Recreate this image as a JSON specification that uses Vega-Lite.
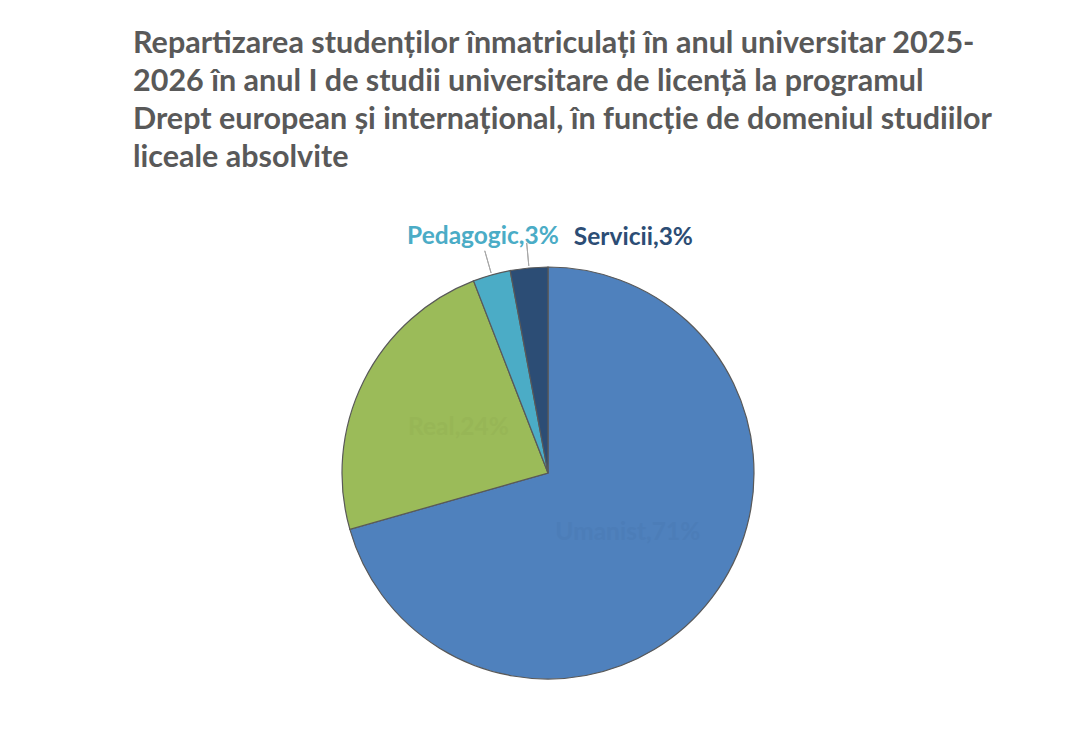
{
  "$schema": "https://vega.github.io/schema/vega-lite/v6.json",
  "autosize": {"type": "none"},
  "width": 1048,
  "height": 520,
  "padding": {"left": 24, "top": 213, "right": 0, "bottom": 0},
  "background": "white",
  "config": {"view": {"stroke": null}},
  "title": {
    "text": [
      "Repartizarea studenților înmatriculați în anul universitar 2025-",
      "2026 în anul I de studii universitare de licență la programul",
      "Drept european și internațional, în funcție de domeniul studiilor",
      "liceale absolvite"
    ],
    "anchor": "start",
    "dx": 109,
    "offset": 16,
    "baseline": "alphabetic",
    "lineHeight": 38,
    "font": "Lato",
    "fontSize": 30.5,
    "fontWeight": "bold",
    "color": "#595959"
  },
  "data": {
    "values": [
      {"cat": "Umanist", "n": 24, "ord": 1, "label": "Umanist,71%"},
      {"cat": "Real", "n": 8, "ord": 2, "label": "Real,24%"},
      {"cat": "Pedagogic", "n": 1, "ord": 3, "label": "Pedagogic,3%"},
      {"cat": "Servicii", "n": 1, "ord": 4, "label": "Servicii,3%"}
    ]
  },
  "encoding": {
    "theta": {"field": "n", "type": "quantitative", "stack": true},
    "order": {"field": "ord", "type": "quantitative", "sort": "ascending"}
  },
  "layer": [
    {
      "mark": {"type": "arc", "outerRadius": 206, "stroke": "#595959", "strokeWidth": 1.2},
      "encoding": {
        "color": {
          "field": "cat",
          "type": "nominal",
          "scale": {"domain": ["Umanist", "Real", "Pedagogic", "Servicii"], "range": ["#4F81BD", "#9BBB59", "#4BACC6", "#2C4D75"]},
          "legend": null
        }
      }
    },
    {
      "mark": {"type": "arc", "radius": 231, "radius2": 208, "padAngle": 1.5, "fill": "transparent", "stroke": "#A6A6A6", "strokeWidth": 1},
      "encoding": {
        "detail": {"field": "cat"},
        "strokeOpacity": {"condition": {"test": "datum.n < 2", "value": 1}, "value": 0}
      }
    },
    {
      "mark": {"type": "text", "radius": 100, "font": "Lato", "fontSize": 24.5, "fontWeight": "bold", "baseline": "middle", "align": "center"},
      "encoding": {
        "detail": {"field": "cat"},
        "text": {"condition": {"test": "datum.n >= 2", "field": "label"}, "value": ""},
        "color": {"condition": {"test": "datum.cat == 'Umanist'", "value": "#4C7DB8"}, "value": "#97B656"}
      }
    },
    {
      "mark": {"type": "text", "radius": 245, "dx": 2, "font": "Lato", "fontSize": 24.5, "fontWeight": "bold", "baseline": "middle", "align": "center", "color": "#4BACC6"},
      "encoding": {
        "detail": {"field": "cat"},
        "text": {"condition": {"test": "datum.cat == 'Pedagogic'", "field": "label"}, "value": ""}
      }
    },
    {
      "mark": {"type": "text", "radius": 245, "dx": 108, "dy": 9, "font": "Lato", "fontSize": 24.5, "fontWeight": "bold", "baseline": "middle", "align": "center", "color": "#2C4D75"},
      "encoding": {
        "detail": {"field": "cat"},
        "text": {"condition": {"test": "datum.cat == 'Servicii'", "field": "label"}, "value": ""}
      }
    }
  ]
}
